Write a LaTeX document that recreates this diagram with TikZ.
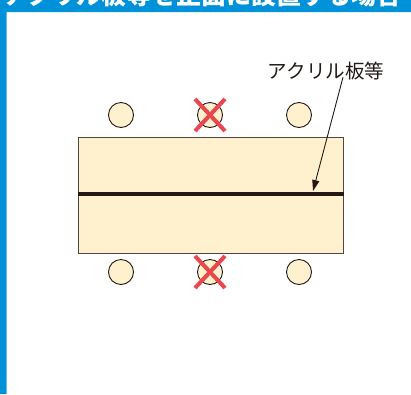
\documentclass[tikz,border=0pt]{standalone}
\usepackage{fontspec}
\newfontfamily\jpfont{Noto Sans CJK JP}
\usetikzlibrary{positioning,arrows.meta}

\definecolor{deskfill}{HTML}{FFF1CD}
\definecolor{titleblue}{HTML}{0092D8}
\definecolor{crossred}{HTML}{E9464F}
\definecolor{inkdark}{HTML}{231815}

\tikzset{
  desk/.style={draw=inkdark!80, line width=1pt, fill=deskfill, inner sep=0pt},
  seat/.style={circle, draw=inkdark, line width=0.9pt, fill=deskfill, minimum size=25pt, inner sep=0pt},
  cross/.style={draw=crossred, line width=4pt},
}

\begin{document}
\begin{tikzpicture}[x=1pt,y=-1pt]
        \useasboundingbox (0,0) rectangle (411,394);
        \begin{scope}
          \clip (0,0) rectangle (411,394);
          \fill[titleblue] (0,0) rectangle (411,12)
          (0,0) rectangle (6,394);
          \fill[titleblue!60] (6,12) rectangle (7,394);
          \node[anchor=base west, text=white, inner sep=0pt,
            font=\jpfont\bfseries\fontsize{25}{25}\selectfont] (title) at (3,4)
            {アクリル板等を正面に設置する場合};
        \end{scope}

        % table and partition
        \node[desk, minimum width=265pt, minimum height=116pt] (table) at (210.5,195) {};
        \draw[inkdark, line width=4pt] ([yshift=1pt]table.west) -- ([yshift=1pt]table.east);

        % seats
        \foreach \sx [count=\i] in {121,210,299} {
          \node[seat] (top-\i) at (\sx,115) {};
          \node[seat] (bot-\i) at (\sx,272) {};
        }
        \foreach \s in {top-2,bot-2} {
          \draw[cross] (\s.center) +(-15,-16) -- +(15,16)
          (\s.center) +(15,-16) -- +(-15,16);
        }

        % label
        \node[font=\jpfont\fontsize{19.5}{19.5}\selectfont, text=inkdark, inner sep=0pt] (panel) at (326,71) {アクリル板等};
        \coordinate (tip) at (313,191);
        \draw[inkdark, line width=0.9pt, -{Triangle[length=11pt,width=7pt]}]
          ([xshift=17pt,yshift=3pt]panel.south) -- (tip);
      \end{tikzpicture}
\end{document}
